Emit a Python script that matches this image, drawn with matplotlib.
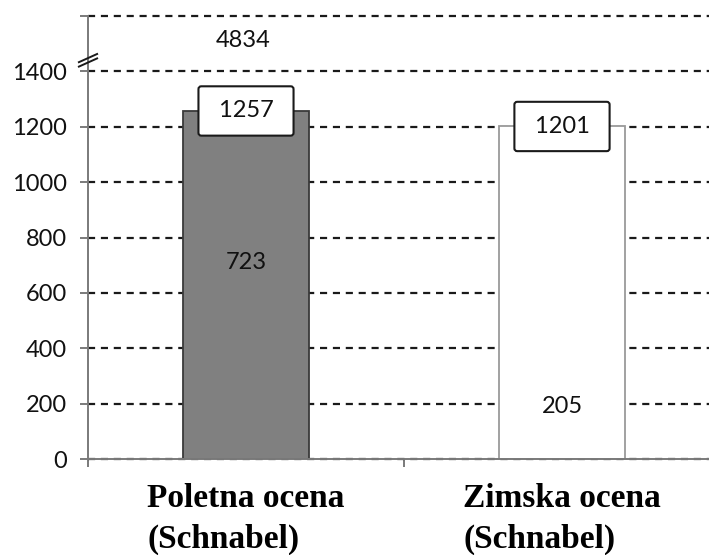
import numpy as np
import matplotlib.pyplot as plt

# ─── Data ────────────────────────────────────────────────────────────
categories = ['Poletna ocena\n(Schnabel)', 'Zimska ocena\n(Schnabel)']
estimates = [1257, 1201]
lower = [723, 205]
upper_label = '4834'
yticks = [0, 200, 400, 600, 800, 1000, 1200, 1400, 1600]
ytick_labels = ['0', '200', '400', '600', '800', '1000', '1200', '1400', '']

# position of the (off-scale) upper bound label above the axis break
UPPER_POS = 1510
BREAK_POS = 1440

fig = plt.figure(figsize=(7.09, 5.55), dpi=100)
ax = fig.add_axes([88 / 709, 1 - 459 / 555, (720 - 88) / 709, (459 - 16) / 555])

x = np.arange(len(categories))
ax.bar(x[0], estimates[0], width=0.40, color='#808080', edgecolor='#3a3a3a', linewidth=1.3, zorder=3)
ax.bar(x[1], estimates[1], width=0.40, color='white', edgecolor='#9a9a9a', linewidth=1.3, zorder=3)

ax.set_xlim(-0.5, 1.5)
ax.set_ylim(0, 1600)

# gridlines
ax.set_yticks(yticks, ytick_labels)
ax.yaxis.grid(True, linestyle=(0, (3.2, 2.6)), color='#1a1a1a', linewidth=1.6)
for gl in ax.get_ygridlines():
    gl.set_clip_on(False)
ax.set_axisbelow(True)

for s in ['top', 'right']:
    ax.spines[s].set_visible(False)
ax.spines['left'].set_color('#7a7a7a')
ax.spines['bottom'].set_color('#7a7a7a')
ax.spines['left'].set_linewidth(1.4)
ax.spines['bottom'].set_linewidth(1.4)
ax.spines['bottom'].set_zorder(4)

ax.tick_params(axis='y', length=6, width=1.4, color='#7a7a7a', pad=9,
               labelsize=17, labelcolor='#111111')
for lab in ax.get_yticklabels():
    lab.set_fontfamily('Lato')

# category labels, tick marks at the boundaries
ax.set_xticks(x, categories)
ax.set_xticks([-0.5, 0.5, 1.5], minor=True)
ax.tick_params(axis='x', which='major', length=0, pad=17)
ax.tick_params(axis='x', which='minor', length=6, width=1.4, color='#7a7a7a')
for lab in ax.get_xticklabels():
    lab.set_fontfamily('Liberation Serif')
    lab.set_fontweight('bold')
    lab.set_fontsize(24)
    lab.set_multialignment('left')
    lab.set_linespacing(1.42)

# value labels
box = dict(boxstyle='round,pad=0.6,rounding_size=0.12', facecolor='white',
           edgecolor='#1a1a1a', linewidth=1.5)
for xi, est in zip(x, estimates):
    ax.text(xi, est, ' %d ' % est, ha='center', va='center', fontsize=17,
            family='Lato', color='#111111', bbox=box, zorder=5)
for xi, lo in zip(x, lower):
    ax.annotate(str(lo), (xi, lo), xytext=(0, -3), textcoords='offset points',
                ha='center', va='center', fontsize=17,
                family='Lato', color='#111111', zorder=5)
ax.text(x[0] - 0.01, UPPER_POS, upper_label, ha='center', va='center', fontsize=17,
        family='Lato', color='#111111', zorder=5)

# axis break marks (two short slanted strokes across the y axis)
dx = 10 * 2 / 632
dy = 4.5 * 1600 / 443
for yc in [BREAK_POS + 8, BREAK_POS - 8]:
    ax.plot([-0.5 - dx, -0.5 + dx], [yc - dy, yc + dy], color='#1a1a1a', lw=1.4,
            clip_on=False, zorder=6, solid_capstyle='butt')

fig.savefig('out.png', dpi=100)
